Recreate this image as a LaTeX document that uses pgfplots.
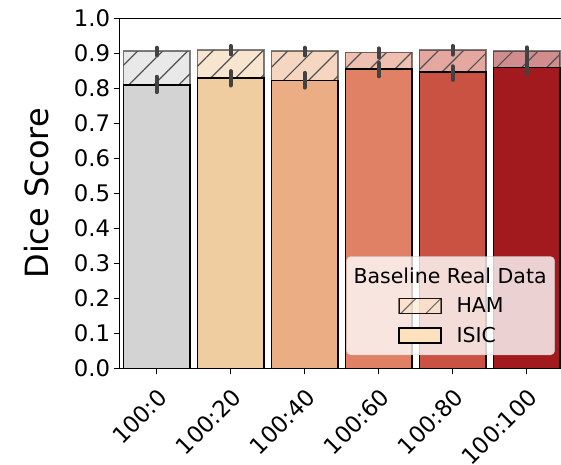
\documentclass[border=0pt]{standalone}
\usepackage{pgfplots}
\pgfplotsset{compat=1.18}
\usepackage{fontspec}
\setmainfont{DejaVu Sans}
\usetikzlibrary{patterns.meta}
\definecolor{c0}{HTML}{D3D3D3}
\definecolor{c1}{HTML}{F0CCA1}
\definecolor{c2}{HTML}{EAAD84}
\definecolor{c3}{HTML}{E08064}
\definecolor{c4}{HTML}{CA5242}
\definecolor{c5}{HTML}{A31A1E}
\definecolor{legc}{HTML}{FDE1BF}
\definecolor{errc}{HTML}{424242}
\pgfplotsset{
  ham/.style={ybar, bar width=0.9, bar shift=0pt, fill=#1, fill opacity=0.5, draw=black, draw opacity=0.5, line width=1.5pt, forget plot},
  hatch/.style={ybar, bar width=0.9, bar shift=0pt, draw=none, pattern={Lines[angle=45,distance=17.7pt,line width=1.2pt]}, pattern color=black!68, forget plot},
  isic/.style={ybar, bar width=0.9, bar shift=0pt, fill=#1, draw=black, line width=1.5pt, forget plot},
}
\begin{document}
\begin{tikzpicture}
\useasboundingbox (-119.7pt,-95.7pt) rectangle (441.3pt,368.3pt);
\begin{axis}[
  at={(0pt,0pt)}, anchor=south west,
  scale only axis, width=444pt, height=350pt,
  xmin=-0.5, xmax=5.5, ymin=0, ymax=1,
  xtick={0,1,2,3,4,5},
  xticklabels={100:0,100:20,100:40,100:60,100:80,100:100},
  ytick={0,0.1,0.2,0.3,0.4,0.5,0.6,0.7,0.8,0.9,1.0},
  tick pos=left, tick align=outside, major tick length=6pt,
  every tick/.style={black, line width=1.2pt},
  axis line style={line width=1.2pt},
  /pgf/number format/assume math mode=true,
  tick label style={font=\fontsize{22.8}{27}\selectfont},
  yticklabel style={/pgf/number format/.cd, fixed, fixed zerofill, precision=1},
  xticklabel style={rotate=45, anchor=north east, inner sep=2pt},
  xticklabel shift=10pt,
  ylabel={Dice Score},
  every axis y label/.style={at={(rel axis cs:0,0.5)}, xshift=-71.4pt, rotate=90, anchor=base, font=\fontsize{32}{38}\selectfont},
  legend cell align=left,
  legend style={at={(rel axis cs:0.980,0.038)}, anchor=south east,
    fill=white, fill opacity=0.8, draw=black!20, draw opacity=0.8, text opacity=1,
    rounded corners=4pt, inner xsep=6pt, inner ysep=9pt, row sep=9pt,
    font=\fontsize{20.5}{24}\selectfont, nodes={inner sep=2pt},
    /tikz/every odd column/.append style={column sep=13pt}},
]
% HAM (behind, translucent, hatched)
\addplot[ham=c0] coordinates {(0,0.906)};
\addplot[ham=c1] coordinates {(1,0.910)};
\addplot[ham=c2] coordinates {(2,0.906)};
\addplot[ham=c3] coordinates {(3,0.903)};
\addplot[ham=c4] coordinates {(4,0.910)};
\addplot[ham=c5] coordinates {(5,0.906)};
\addplot[hatch] coordinates {(0,0.906) (1,0.910) (2,0.906) (3,0.903) (4,0.910) (5,0.906)};
% ISIC (front)
\addplot[isic=c0] coordinates {(0,0.810)};
\addplot[isic=c1] coordinates {(1,0.829)};
\addplot[isic=c2] coordinates {(2,0.823)};
\addplot[isic=c3] coordinates {(3,0.855)};
\addplot[isic=c4] coordinates {(4,0.846)};
\addplot[isic=c5] coordinates {(5,0.860)};
% error bars
\addplot[forget plot, draw=none, mark=none,
  error bars/.cd, y dir=both, y explicit, error mark=none,
  error bar style={draw=errc, draw opacity=1, line width=4pt, line cap=round}]
  coordinates {
  (0,0.906) += (0,0.010) -= (0,0.012)
  (1,0.910) += (0,0.011) -= (0,0.013)
  (2,0.906) += (0,0.010) -= (0,0.012)
  (3,0.903) += (0,0.011) -= (0,0.015)
  (4,0.910) += (0,0.011) -= (0,0.014)
  (5,0.906) += (0,0.011) -= (0,0.016)
  (0,0.810) += (0,0.023) -= (0,0.021)
  (1,0.829) += (0,0.020) -= (0,0.021)
  (2,0.823) += (0,0.021) -= (0,0.021)
  (3,0.855) += (0,0.018) -= (0,0.021)
  (4,0.846) += (0,0.017) -= (0,0.022)
  (5,0.860) += (0,0.027) -= (0,0.019)
  };
% legend
\addlegendimage{empty legend}
\addlegendentry{\hspace*{-103pt}Baseline Real Data}
\addlegendimage{legend image code/.code={
  \path (-46pt,0pt);
  \fill[legc, fill opacity=0.5, sharp corners] (0pt,-7.5pt) rectangle (42pt,7.5pt);
  \path[pattern={Lines[angle=45,distance=17.7pt,line width=1.2pt]}, pattern color=black!68, sharp corners] (0pt,-7.5pt) rectangle (42pt,7.5pt);
  \draw[black, draw opacity=0.5, line width=1.5pt, sharp corners] (0pt,-7.5pt) rectangle (42pt,7.5pt);
}}
\addlegendentry{HAM}
\addlegendimage{legend image code/.code={
  \path (-46pt,0pt);
  \draw[fill=legc, fill opacity=1, draw=black, draw opacity=1, line width=1.5pt, sharp corners] (0pt,-7.5pt) rectangle (42pt,7.5pt);
}}
\addlegendentry{ISIC}
\end{axis}
\end{tikzpicture}
\end{document}
